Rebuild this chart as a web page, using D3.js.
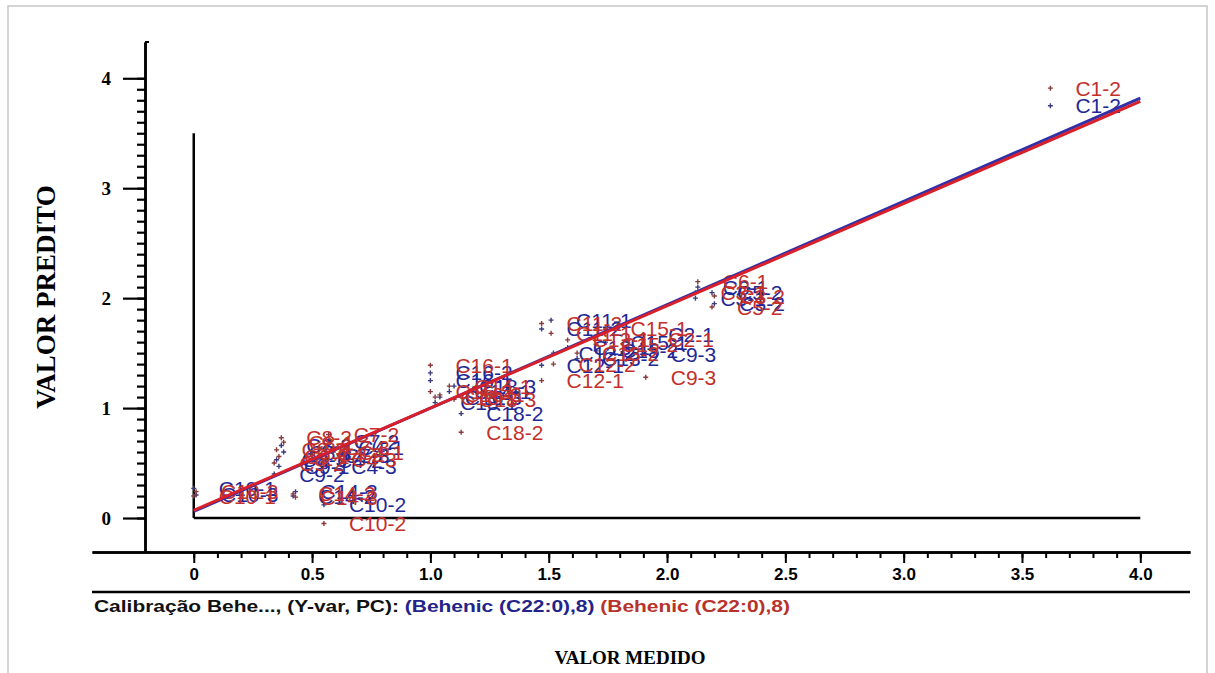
<!DOCTYPE html>
<html>
<head>
<meta charset="utf-8">
<script src="https://cdn.jsdelivr.net/npm/d3@7/dist/d3.min.js"></script>
<style>
  body { margin: 0; background: #fff; }
</style>
</head>
<body>
<div id="chart"></div>
<script>
// samples: name, measured value, predicted (calibration, blue), predicted (validation, red)
const sampleNames = [
  "C10-3", "C10-1", "C9-2", "C9-1", "C8-2", "C8-1", "C8-3", "C14-2", "C14-3", "C10-2",
  "C7-2", "C7-3", "C4-1", "C4-2", "C4-3",
  "C16-1", "C16-2", "C16-3", "C14-1", "C18-1", "C18-3", "C18-2",
  "C11-2", "C11-1", "C12-1", "C12-2", "C13-1", "C13-2", "C15-1", "C15-2", "C2-1", "C9-3",
  "C5-2", "C6-1", "C3-1", "C3-2", "C1-2"
];
const measured = [
  0.01, 0.00, 0.34, 0.36, 0.37, 0.38, 0.35, 0.42, 0.43, 0.55,
  0.57, 0.53, 0.59, 0.50, 0.56,
  1.00, 1.00, 1.04, 1.08, 1.02, 1.10, 1.13,
  1.47, 1.51, 1.47, 1.52, 1.58, 1.62, 1.74, 1.70, 1.90, 1.91,
  2.19, 2.13, 2.12, 2.20, 3.62
];
const predCal = [
  0.21, 0.27, 0.40, 0.47, 0.66, 0.60, 0.53, 0.20, 0.24, 0.12,
  0.70, 0.57, 0.64, 0.52, 0.47,
  1.25, 1.32, 1.10, 1.15, 1.05, 1.20, 0.95,
  1.72, 1.80, 1.39, 1.50, 1.55, 1.45, 1.60, 1.52, 1.67, 1.49,
  2.05, 2.10, 2.00, 1.95, 3.75
];
const predVal = [
  0.24, 0.20, 0.50, 0.56, 0.73, 0.69, 0.62, 0.22, 0.19, -0.05,
  0.76, 0.64, 0.60, 0.58, 0.53,
  1.39, 1.15, 1.12, 1.20, 1.10, 1.08, 0.78,
  1.77, 1.68, 1.25, 1.40, 1.62, 1.50, 1.72, 1.58, 1.62, 1.28,
  1.92, 2.15, 2.05, 2.02, 3.91
];

// regression lines
const lineX = [0, 4.0];
const lineCal = [0.06, 3.82];
const lineVal = [0.07, 3.79];

const xTickValues = [0, 0.5, 1.0, 1.5, 2.0, 2.5, 3.0, 3.5, 4.0];
const xTickLabels = ["0", "0.5", "1.0", "1.5", "2.0", "2.5", "3.0", "3.5", "4.0"];
const yTickValues = [0, 1, 2, 3, 4];
const yTickLabels = ["0", "1", "2", "3", "4"];

const legendParts = [
  { text: "Calibração Behe..., (Y-var, PC): ", color: "#111" },
  { text: "(Behenic (C22:0),8)", color: "#23238a" },
  { text: " (Behenic (C22:0),8)", color: "#b8322c" }
];

const BLUE = "#1f2896";
const RED = "#c3302b";
const BLUE_LINE = "#3030a8";
const RED_LINE = "#d81f2a";

const width = 1215, height = 673;

const svg = d3.select("#chart").append("svg")
  .attr("width", width)
  .attr("height", height)
  .style("display", "block");

svg.append("rect")
  .attr("x", 8).attr("y", 6)
  .attr("width", 1199).attr("height", 700)
  .attr("fill", "none")
  .attr("stroke", "#c6c6c6")
  .attr("stroke-width", 1.5);

const x = d3.scaleLinear().domain([-0.43, 4.21]).range([92, 1190]);
const y = d3.scaleLinear().domain([-0.3, 4.33]).range([551, 42]);

// reference cross lines at the origin
svg.append("line")
  .attr("x1", x(0)).attr("x2", x(0))
  .attr("y1", y(0)).attr("y2", y(3.5))
  .attr("stroke", "#000").attr("stroke-width", 2.5);
svg.append("line")
  .attr("x1", x(0)).attr("x2", x(4.0))
  .attr("y1", y(0)).attr("y2", y(0))
  .attr("stroke", "#000").attr("stroke-width", 2.5);

// y axis
const yMinor = d3.range(0, 41).map(i => i / 10);
const yAxisG = svg.append("g").attr("transform", "translate(145,0)");
yAxisG.call(d3.axisLeft(y).tickValues(yMinor).tickSize(8).tickSizeOuter(0).tickFormat(""));
yAxisG.append("g").call(
  d3.axisLeft(y).tickValues(yTickValues).tickSize(22).tickSizeOuter(0).tickPadding(12)
    .tickFormat((d, i) => yTickLabels[i])
);
yAxisG.selectAll("path.domain").attr("stroke-width", 2.5);
yAxisG.selectAll(".tick line").attr("stroke-width", 2.2);
yAxisG.selectAll(".tick text")
  .attr("font-family", "'Liberation Serif', 'Times New Roman', serif")
  .attr("font-weight", "bold")
  .attr("font-size", 19)
  .attr("fill", "#000");
yAxisG.append("line").attr("x1", 0).attr("x2", 4).attr("y1", 42).attr("y2", 42)
  .attr("stroke", "#000").attr("stroke-width", 2);

// x axis
const xMinor = d3.range(0, 41).map(i => i / 10);
const xAxisG = svg.append("g").attr("transform", "translate(0,552)");
xAxisG.call(d3.axisBottom(x).tickValues(xMinor).tickSize(6).tickSizeOuter(0).tickFormat(""));
xAxisG.append("g").call(
  d3.axisBottom(x).tickValues(xTickValues).tickSize(11).tickSizeOuter(0).tickPadding(5)
    .tickFormat((d, i) => xTickLabels[i])
);
xAxisG.selectAll("path.domain").attr("stroke-width", 2.5);
xAxisG.selectAll(".tick line").attr("stroke-width", 2);
xAxisG.selectAll(".tick text")
  .attr("font-family", "'Liberation Sans', Arial, sans-serif")
  .attr("font-weight", "bold")
  .attr("font-size", 17)
  .attr("fill", "#000");

svg.append("line")
  .attr("x1", 92).attr("x2", 1190)
  .attr("y1", 592).attr("y2", 592)
  .attr("stroke", "#000").attr("stroke-width", 2.5);

// legend line
const legend = svg.append("text")
  .attr("x", 94).attr("y", 612)
  .attr("font-family", "'Liberation Sans', Arial, sans-serif")
  .attr("font-weight", "bold")
  .attr("font-size", 17)
  .attr("textLength", 696)
  .attr("lengthAdjust", "spacingAndGlyphs");
legend.selectAll("tspan")
  .data(legendParts)
  .join("tspan")
  .attr("fill", d => d.color)
  .attr("xml:space", "preserve")
  .text(d => d.text);

// axis titles
svg.append("text")
  .attr("x", 630).attr("y", 664)
  .attr("text-anchor", "middle")
  .attr("font-family", "'Liberation Serif', 'Times New Roman', serif")
  .attr("font-weight", "bold")
  .attr("font-size", 19)
  .text("VALOR MEDIDO");

svg.append("text")
  .attr("transform", "translate(55,297) rotate(-90)")
  .attr("text-anchor", "middle")
  .attr("font-family", "'Liberation Serif', 'Times New Roman', serif")
  .attr("font-weight", "bold")
  .attr("font-size", 27)
  .text("VALOR PREDITO");

// points and labels
const samples = sampleNames.map((n, i) => ({ name: n, v: measured[i], cal: predCal[i], val: predVal[i] }));

function drawSeries(key, markColor, textColor) {
  const g = svg.append("g");
  g.selectAll("path.mark")
    .data(samples)
    .join("path")
    .attr("class", "mark")
    .attr("d", d => {
      const px = x(d.v), py = y(d[key]);
      return `M${px - 2.5},${py}H${px + 2.5}M${px},${py - 2.5}V${py + 2.5}`;
    })
    .attr("stroke", markColor)
    .attr("stroke-width", 1.4);
  g.selectAll("text")
    .data(samples)
    .join("text")
    .attr("x", d => x(d.v) + 25)
    .attr("y", d => y(d[key]))
    .attr("dy", "0.36em")
    .attr("font-family", "'Liberation Sans', Arial, sans-serif")
    .attr("font-size", 21)
    .attr("fill", textColor)
    .text(d => d.name);
}
drawSeries("cal", "#3a3a80", BLUE);
drawSeries("val", "#8a3a3a", RED);

// regression lines
const lineGen = d3.line().x(d => x(d[0])).y(d => y(d[1]));
svg.append("path")
  .attr("d", lineGen(lineX.map((v, i) => [v, lineCal[i]])))
  .attr("stroke", BLUE_LINE).attr("stroke-width", 3).attr("fill", "none");
svg.append("path")
  .attr("d", lineGen(lineX.map((v, i) => [v, lineVal[i]])))
  .attr("stroke", RED_LINE).attr("stroke-width", 3).attr("fill", "none");
</script>
</body>
</html>
